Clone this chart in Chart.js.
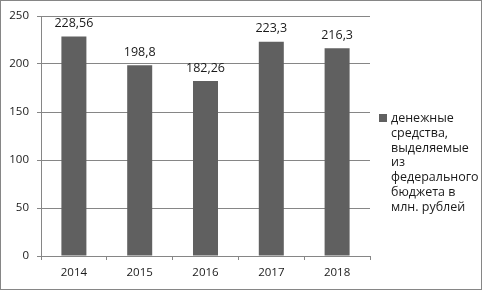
<!DOCTYPE html>
<html lang="ru">
<head>
<meta charset="utf-8">
<script src="https://cdn.jsdelivr.net/npm/chart.js@4/dist/chart.umd.min.js"></script>
<style>
    html, body { margin: 0; padding: 0; background: #fff; }
    #wrap {
        position: relative;
        width: 482px;
        height: 290px;
        box-sizing: border-box;
        border: 1px solid #868686;
        font-family: "Open Sans", sans-serif;
    }
    #chart { position: absolute; left: 0; top: 0; }
    #legend {
        position: absolute;
        left: 378px;
        top: 110px;
        font-size: 12.5px;
        line-height: 14.8px;
        color: #1a1a1a;
    }
    #legend .box {
        position: absolute;
        left: 0;
        top: 3px;
        width: 8px;
        height: 8px;
        background: #606060;
    }
    #legend .txt { margin-left: 12px; white-space: nowrap; }
</style>
</head>
<body>
<div id="wrap">
    <canvas id="chart" width="480" height="288"></canvas>
    <div id="legend"><span class="box"></span><div class="txt" id="legendText"></div></div>
</div>
<script>
// données
const annees = ['2014', '2015', '2016', '2017', '2018'];
const montants = [228.56, 198.8, 182.26, 223.3, 216.3];
const etiquettes = ['228,56', '198,8', '182,26', '223,3', '216,3'];
const legendeLignes = ['денежные', 'средства,', 'выделяемые', 'из', 'федерального', 'бюджета в', 'млн. рублей'];
const ticksY = [0, 50, 100, 150, 200, 250];

document.getElementById('legendText').innerHTML = legendeLignes.join('<br>');

const couleurBarre = '#606060';
const couleurGrille = '#868686';
const couleurTexte = '#1a1a1a';
const police = { family: '"Open Sans", sans-serif', size: 11.5 };

// étiquettes de valeur au-dessus des barres
const valeursPlugin = {
    id: 'valeurs',
    afterDatasetsDraw(chart) {
        const ctx = chart.ctx;
        const meta = chart.getDatasetMeta(0);
        ctx.save();
        ctx.font = `12.5px ${police.family}`;
        ctx.fillStyle = couleurTexte;
        ctx.textAlign = 'center';
        ctx.textBaseline = 'middle';
        meta.data.forEach((bar, i) => {
            ctx.fillText(etiquettes[i], bar.x, bar.y - 13);
        });
        ctx.restore();
    }
};

new Chart(document.getElementById('chart').getContext('2d'), {
    type: 'bar',
    data: {
        labels: annees,
        datasets: [{
            label: legendeLignes.join(' '),
            data: montants,
            backgroundColor: couleurBarre,
            borderWidth: 0,
            categoryPercentage: 1,
            barPercentage: 0.38
        }]
    },
    options: {
        responsive: false,
        animation: false,
        layout: { padding: { left: 0, right: 111, top: 15, bottom: 0 } },
        plugins: {
            legend: { display: false },
            tooltip: { enabled: false }
        },
        scales: {
            y: {
                min: 0,
                max: 250,
                afterBuildTicks: (scale) => { scale.ticks = ticksY.map(v => ({ value: v })); },
                afterFit: (scale) => { scale.width = 40; },
                ticks: { color: couleurTexte, font: police, padding: 8 },
                grid: { color: couleurGrille, tickLength: 4, tickColor: couleurGrille },
                border: { color: couleurGrille }
            },
            x: {
                afterFit: (scale) => { scale.height = 33; },
                ticks: { color: couleurTexte, font: police, padding: 6 },
                grid: { drawOnChartArea: false, offset: true, tickLength: 4, color: couleurGrille },
                border: { color: couleurGrille }
            }
        }
    },
    plugins: [valeursPlugin]
});
</script>
</body>
</html>
